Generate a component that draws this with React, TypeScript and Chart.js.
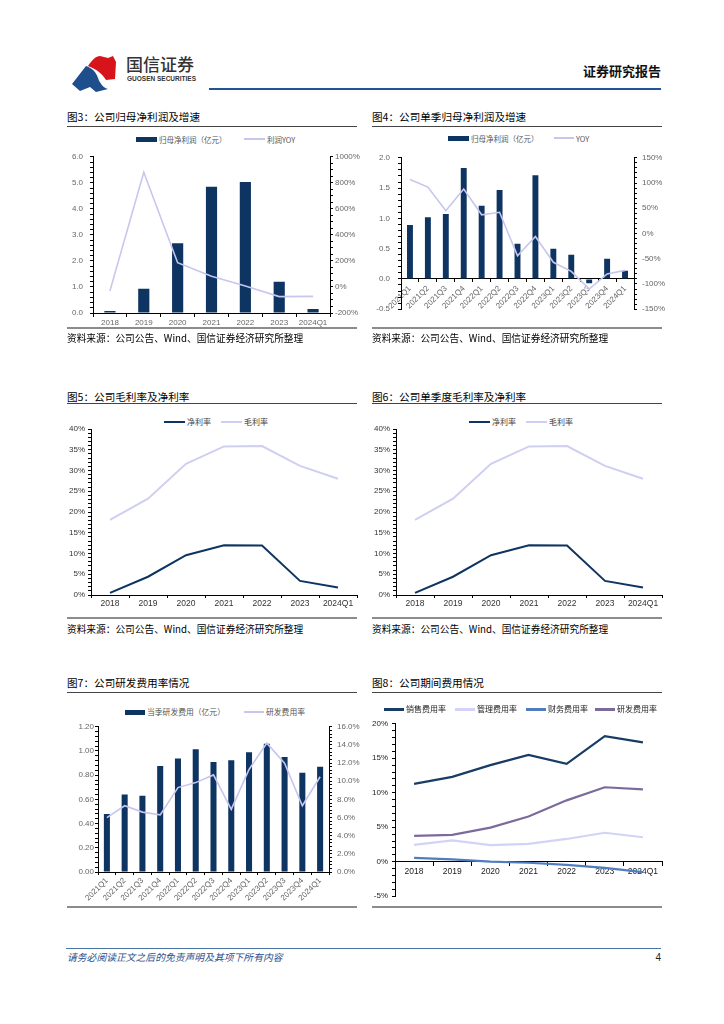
import React, { useEffect, useRef } from 'react';
import { Chart, registerables } from 'chart.js';

Chart.register(...registerables);

// ---------------- data ----------------
const yearCats = ['2018', '2019', '2020', '2021', '2022', '2023', '2024Q1'];
const quarterCats = [
  '2021Q1', '2021Q2', '2021Q3', '2021Q4',
  '2022Q1', '2022Q2', '2022Q3', '2022Q4',
  '2023Q1', '2023Q2', '2023Q3', '2023Q4', '2024Q1',
];

// Fig 3
const annualNetProfit = [0.08, 0.93, 2.68, 4.85, 5.03, 1.2, 0.15];
const annualProfitYoy = [-30, 881, 186, 82, 7, -74, -72];

// Fig 4
const quarterNetProfit = [0.89, 1.02, 1.07, 1.83, 1.21, 1.47, 0.58, 1.71, 0.5, 0.4, -0.07, 0.335, 0.135];
const quarterProfitYoy = [107, 92, 45, 88, 37, 42, -44, -6, -57, -75, -110, -80, -73];

// Fig 5 / Fig 6
const netMargin = [0.5, 4.4, 9.6, 12.0, 11.9, 3.4, 1.8];
const grossMargin = [18.1, 23.2, 31.6, 35.8, 35.9, 31.1, 28.0];

// Fig 7
const rdExpense = [0.48, 0.64, 0.63, 0.877, 0.937, 1.014, 0.91, 0.923, 0.99, 1.06, 0.95, 0.82, 0.87];
const rdExpenseRate = [6.0, 7.3, 6.6, 6.3, 9.3, 9.85, 10.7, 6.9, 11.3, 14.2, 12.0, 7.3, 10.5];

// Fig 8
const salesRate = [11.3, 12.3, 14.0, 15.5, 14.2, 18.2, 17.3];
const adminRate = [2.45, 3.1, 2.4, 2.6, 3.3, 4.2, 3.55];
const financeRate = [0.55, 0.35, 0.0, -0.15, -0.45, -0.9, -1.5];
const rdRate = [3.75, 3.9, 4.95, 6.55, 8.9, 10.8, 10.5];

// ---------------- styles ----------------
const SANS = "'Liberation Sans', 'DejaVu Sans', Arial, sans-serif";
const CJK = "'Noto Sans CJK SC', 'Noto Sans', sans-serif";
const NAVY = '#0e3461';
const LILAC = '#c6c6ef';

function isMajor(v: number, step: number) {
  const r = v / step;
  return Math.abs(r - Math.round(r)) < 1e-6;
}

function valueAxis(o: {
  pos: 'left' | 'right';
  min: number;
  max: number;
  minor: number;
  major: number;
  fmt: (v: number) => string;
  width: number;
  pad: number;
  color: string;
  size?: number;
}) {
  return {
    type: 'linear',
    position: o.pos,
    min: o.min,
    max: o.max,
    afterBuildTicks: (s: any) => {
      const n = Math.round((o.max - o.min) / o.minor);
      const t: any[] = [];
      for (let i = 0; i <= n; i++) t.push({ value: +(o.min + i * o.minor).toFixed(6) });
      s.ticks = t;
    },
    ticks: {
      autoSkip: false,
      padding: o.pad,
      color: o.color,
      font: { family: SANS, size: o.size ?? 8 },
      callback: (v: any) => (isMajor(Number(v), o.major) ? o.fmt(Number(v)) : ''),
    },
    grid: { drawOnChartArea: false, drawTicks: true, tickLength: 3, color: '#000', tickColor: '#000' },
    border: { display: true, color: '#000', width: 1 },
    afterFit: (s: any) => {
      s.width = o.width;
    },
  };
}

function catAxis(o: {
  labels: string[];
  rotate: number;
  height?: number;
  atZero?: boolean;
  color: string;
  size?: number;
  pad: number;
  tick: number;
}) {
  const ax: any = {
    type: 'category',
    labels: o.labels,
    offset: true,
    position: o.atZero ? { y: 0 } : 'bottom',
    grid: { offset: true, drawOnChartArea: false, drawTicks: true, tickLength: o.tick, color: '#000', tickColor: '#000' },
    border: { display: true, color: '#000', width: 1 },
    ticks: {
      autoSkip: false,
      maxRotation: o.rotate,
      minRotation: o.rotate,
      padding: o.pad,
      color: o.color,
      font: { family: SANS, size: o.size ?? 8 },
    },
  };
  if (o.height != null) {
    ax.afterFit = (s: any) => {
      s.height = o.height;
    };
  }
  return ax;
}

function baseOptions(padding: any, scales: any) {
  return {
    animation: false,
    responsive: false,
    maintainAspectRatio: false,
    events: [],
    layout: { padding },
    plugins: { legend: { display: false }, tooltip: { enabled: false } },
    scales,
  };
}

// ---------------- chart configs ----------------
function fig3Config() {
  return {
    type: 'bar',
    data: {
      labels: yearCats,
      datasets: [
        { type: 'line', data: annualProfitYoy, yAxisID: 'y1', borderColor: LILAC, borderWidth: 1.6, pointRadius: 0, tension: 0, order: 0 },
        { type: 'bar', data: annualNetProfit, yAxisID: 'y', backgroundColor: NAVY, barPercentage: 0.33, categoryPercentage: 1, order: 1 },
      ],
    },
    options: baseOptions({ top: 8, right: 0, bottom: 0, left: 0 }, {
      x: catAxis({ labels: yearCats, rotate: 0, height: 19, color: '#666', pad: 1, tick: 4 }),
      y: valueAxis({ pos: 'left', min: 0, max: 6, minor: 0.2, major: 1, fmt: (v) => v.toFixed(1), width: 33, pad: 7, color: '#666' }),
      y1: valueAxis({ pos: 'right', min: -200, max: 1000, minor: 50, major: 200, fmt: (v) => `${v}%`, width: 35, pad: 2, color: '#666' }),
    }),
  };
}

function fig4Config() {
  return {
    type: 'bar',
    data: {
      labels: quarterCats,
      datasets: [
        { type: 'line', data: quarterProfitYoy, yAxisID: 'y1', borderColor: LILAC, borderWidth: 1.6, pointRadius: 0, tension: 0, order: 0 },
        { type: 'bar', data: quarterNetProfit, yAxisID: 'y', backgroundColor: NAVY, barPercentage: 0.33, categoryPercentage: 1, order: 1 },
      ],
    },
    options: baseOptions({ top: 8, right: 0, bottom: 8, left: 0 }, {
      x: catAxis({ labels: quarterCats, rotate: 45, atZero: true, color: '#666', pad: 2, tick: 3 }),
      y: valueAxis({ pos: 'left', min: -0.5, max: 2, minor: 0.1, major: 0.5, fmt: (v) => v.toFixed(1), width: 36, pad: 8, color: '#666' }),
      y1: valueAxis({ pos: 'right', min: -150, max: 150, minor: 10, major: 50, fmt: (v) => `${v}%`, width: 34, pad: 5, color: '#666' }),
    }),
  };
}

function marginConfig() {
  return {
    type: 'line',
    data: {
      labels: yearCats,
      datasets: [
        { data: netMargin, borderColor: NAVY, borderWidth: 2, pointRadius: 0, tension: 0 },
        { data: grossMargin, borderColor: '#cfcff2', borderWidth: 2, pointRadius: 0, tension: 0 },
      ],
    },
    options: baseOptions({ top: 9, right: 5, bottom: 0, left: 0 }, {
      x: catAxis({ labels: yearCats, rotate: 0, height: 17, color: '#333', pad: 1, tick: 3, size: 8.5 }),
      y: valueAxis({ pos: 'left', min: 0, max: 40, minor: 1, major: 5, fmt: (v) => `${v}%`, width: 31, pad: 3, color: '#333' }),
    }),
  };
}

function fig7Config() {
  return {
    type: 'bar',
    data: {
      labels: quarterCats,
      datasets: [
        { type: 'line', data: rdExpenseRate, yAxisID: 'y1', borderColor: LILAC, borderWidth: 1.6, pointRadius: 0, tension: 0, order: 0 },
        { type: 'bar', data: rdExpense, yAxisID: 'y', backgroundColor: NAVY, barPercentage: 0.34, categoryPercentage: 1, order: 1 },
      ],
    },
    options: baseOptions({ top: 9, right: 0, bottom: 0, left: 0 }, {
      x: catAxis({ labels: quarterCats, rotate: 45, height: 33, color: '#666', pad: 1, tick: 3 }),
      y: valueAxis({ pos: 'left', min: 0, max: 1.2, minor: 0.04, major: 0.2, fmt: (v) => v.toFixed(2), width: 38, pad: 1, color: '#666' }),
      y1: valueAxis({ pos: 'right', min: 0, max: 16, minor: 0.4, major: 2, fmt: (v) => `${v.toFixed(1)}%`, width: 37, pad: 5, color: '#666' }),
    }),
  };
}

function fig8Config() {
  return {
    type: 'line',
    data: {
      labels: yearCats,
      datasets: [
        { data: salesRate, borderColor: '#173c65', borderWidth: 2.2, pointRadius: 0, tension: 0 },
        { data: adminRate, borderColor: '#d3d3f7', borderWidth: 2.2, pointRadius: 0, tension: 0 },
        { data: financeRate, borderColor: '#4f7dc0', borderWidth: 2.2, pointRadius: 0, tension: 0 },
        { data: rdRate, borderColor: '#7d6a9c', borderWidth: 2.2, pointRadius: 0, tension: 0 },
      ],
    },
    options: baseOptions({ top: 8, right: 5, bottom: 8, left: 0 }, {
      x: catAxis({ labels: yearCats, rotate: 0, atZero: true, color: '#222', pad: 1, tick: 4, size: 8.5 }),
      y: valueAxis({ pos: 'left', min: -5, max: 20, minor: 1, major: 5, fmt: (v) => `${v}%`, width: 30, pad: 4, color: '#222' }),
    }),
  };
}

// ---------------- components ----------------
function ChartCanvas({ x, y, w, h, make }: { x: number; y: number; w: number; h: number; make: () => any }) {
  const ref = useRef<HTMLCanvasElement>(null);
  useEffect(() => {
    if (!ref.current) return;
    const c = new Chart(ref.current, make());
    return () => c.destroy();
  }, []);
  return (
    <canvas
      ref={ref}
      width={w}
      height={h}
      style={{ position: 'absolute', left: x, top: y, width: w, height: h }}
    />
  );
}

function Txt(p: {
  x: number;
  y: number;
  size: number;
  children: any;
  color?: string;
  weight?: number;
  family?: string;
  align?: 'left' | 'right';
  italic?: boolean;
}) {
  const style: any = {
    position: 'absolute',
    top: p.y - p.size * 0.6,
    fontSize: p.size,
    lineHeight: `${p.size * 1.2}px`,
    color: p.color ?? '#000',
    fontWeight: p.weight ?? 400,
    fontFamily: p.family ?? CJK,
    whiteSpace: 'nowrap',
    fontStyle: p.italic ? 'italic' : 'normal',
  };
  if (p.align === 'right') style.right = 724 - p.x;
  else style.left = p.x;
  return <div style={style}>{p.children}</div>;
}

function HLine({ x1, x2, y, t, color }: { x1: number; x2: number; y: number; t: number; color: string }) {
  return <div style={{ position: 'absolute', left: x1, top: y - t / 2, width: x2 - x1, height: t, background: color }} />;
}

function Legend({ x, y, w, kind, color, label, textColor, size, thick }: {
  x: number; y: number; w: number; kind: 'bar' | 'line'; color: string; label: string; textColor: string; size: number; thick?: number;
}) {
  const hh = thick ?? (kind === 'bar' ? 5 : 2);
  return (
    <>
      <div style={{ position: 'absolute', left: x, top: y - hh / 2, width: w, height: hh, background: color }} />
      <Txt x={x + w + 2} y={y} size={size} color={textColor}>{label}</Txt>
    </>
  );
}

const SOURCE = '资料来源：公司公告、Wind、国信证券经济研究所整理';

export default function App() {
  return (
    <div style={{ position: 'absolute', left: 0, top: 0, width: 724, height: 1024, background: '#fff', overflow: 'hidden' }}>
      {/* header */}
      <svg style={{ position: 'absolute', left: 0, top: 0 }} width={130} height={100}>
        <path d="M88,66 C92,60 96,56 100,56 L108,58 L113,56 L116,62 L115,79 L106,80 C102,74 98,70 88,66 Z" fill="#d7141c" />
        <path d="M72,84 L86,66 C92,68 96,72 98,78 C100,84 104,88 108,89 L96,92 L90,87 L80,91 Z" fill="#1f4e8c" />
      </svg>
      <Txt x={126} y={64} size={17} color="#333" weight={500}>国信证券</Txt>
      <Txt x={127} y={79} size={6.5} color="#333" weight={700} family={SANS}>GUOSEN SECURITIES</Txt>
      <Txt x={661} y={71} size={13} color="#111" weight={700} align="right">证券研究报告</Txt>
      <HLine x1={209} x2={661} y={89} t={2.5} color="#1f5596" />

      {/* Fig 3 */}
      <Txt x={67} y={117} size={10.6}>图3：公司归母净利润及增速</Txt>
      <HLine x1={67} x2={357} y={126} t={1} color="#444" />
      <Legend x={136} y={139} w={21} kind="bar" color={NAVY} label="归母净利润（亿元）" textColor="#555" size={7.5} />
      <Legend x={244} y={139} w={21} kind="line" color={LILAC} label="利润YOY" textColor="#555" size={7.5} />
      <ChartCanvas x={60} y={145} w={305} h={187} make={fig3Config} />
      <HLine x1={67} x2={357} y={328} t={2} color="#8c8c8c" />
      <Txt x={67} y={339} size={9.7}>{SOURCE}</Txt>

      {/* Fig 4 */}
      <Txt x={372} y={117} size={10.6}>图4：公司单季归母净利润及增速</Txt>
      <HLine x1={372} x2={662} y={126} t={1} color="#444" />
      <Legend x={448} y={138} w={21} kind="bar" color={NAVY} label="归母净利润（亿元）" textColor="#555" size={7.5} />
      <Legend x={554} y={138} w={20} kind="line" color={LILAC} label="YOY" textColor="#555" size={7.5} />
      <ChartCanvas x={365} y={145} w={303} h={177} make={fig4Config} />
      <HLine x1={372} x2={662} y={328} t={2} color="#8c8c8c" />
      <Txt x={372} y={339} size={9.7}>{SOURCE}</Txt>

      {/* Fig 5 */}
      <Txt x={67} y={397} size={10.6}>图5：公司毛利率及净利率</Txt>
      <HLine x1={67} x2={357} y={403} t={1} color="#444" />
      <Legend x={164} y={422} w={21} kind="line" color={NAVY} label="净利率" textColor="#444" size={8} />
      <Legend x={221} y={422} w={21} kind="line" color="#cfcff2" label="毛利率" textColor="#444" size={8} />
      <ChartCanvas x={60} y={420} w={302} h={192} make={marginConfig} />
      <HLine x1={67} x2={357} y={618} t={2} color="#8c8c8c" />
      <Txt x={67} y={630} size={9.7}>{SOURCE}</Txt>

      {/* Fig 6 */}
      <Txt x={372} y={397} size={10.6}>图6：公司单季度毛利率及净利率</Txt>
      <HLine x1={372} x2={662} y={403} t={1} color="#444" />
      <Legend x={469} y={422} w={21} kind="line" color={NAVY} label="净利率" textColor="#444" size={8} />
      <Legend x={526} y={422} w={21} kind="line" color="#cfcff2" label="毛利率" textColor="#444" size={8} />
      <ChartCanvas x={365} y={420} w={302} h={192} make={marginConfig} />
      <HLine x1={372} x2={662} y={618} t={2} color="#8c8c8c" />
      <Txt x={372} y={630} size={9.7}>{SOURCE}</Txt>

      {/* Fig 7 */}
      <Txt x={67} y={683} size={10.6}>图7：公司研发费用率情况</Txt>
      <HLine x1={67} x2={357} y={692} t={1} color="#444" />
      <Legend x={125} y={712} w={20} kind="bar" color={NAVY} label="当季研发费用（亿元）" textColor="#555" size={7.8} />
      <Legend x={244} y={712} w={20} kind="line" color={LILAC} label="研发费用率" textColor="#555" size={7.8} />
      <ChartCanvas x={60} y={717} w={306} h={188} make={fig7Config} />
      <HLine x1={67} x2={357} y={907} t={2} color="#8c8c8c" />

      {/* Fig 8 */}
      <Txt x={372} y={683} size={10.6}>图8：公司期间费用情况</Txt>
      <HLine x1={372} x2={662} y={692} t={1} color="#444" />
      <Legend x={384} y={709} w={20} kind="line" thick={3} color="#173c65" label="销售费用率" textColor="#222" size={8} />
      <Legend x={455} y={709} w={20} kind="line" thick={3} color="#d3d3f7" label="管理费用率" textColor="#222" size={8} />
      <Legend x={526} y={709} w={20} kind="line" thick={3} color="#4f7dc0" label="财务费用率" textColor="#222" size={8} />
      <Legend x={595} y={709} w={20} kind="line" thick={3} color="#7d6a9c" label="研发费用率" textColor="#222" size={8} />
      <ChartCanvas x={365} y={715} w={302} h={190} make={fig8Config} />
      <HLine x1={372} x2={662} y={907} t={2} color="#8c8c8c" />

      {/* footer */}
      <HLine x1={66} x2={661} y={948} t={1} color="#4b77a8" />
      <Txt x={67} y={958} size={9.8} color="#2b4f8a" italic>请务必阅读正文之后的免责声明及其项下所有内容</Txt>
      <Txt x={661} y={958} size={10} color="#222" align="right" family={SANS}>4</Txt>
    </div>
  );
}
